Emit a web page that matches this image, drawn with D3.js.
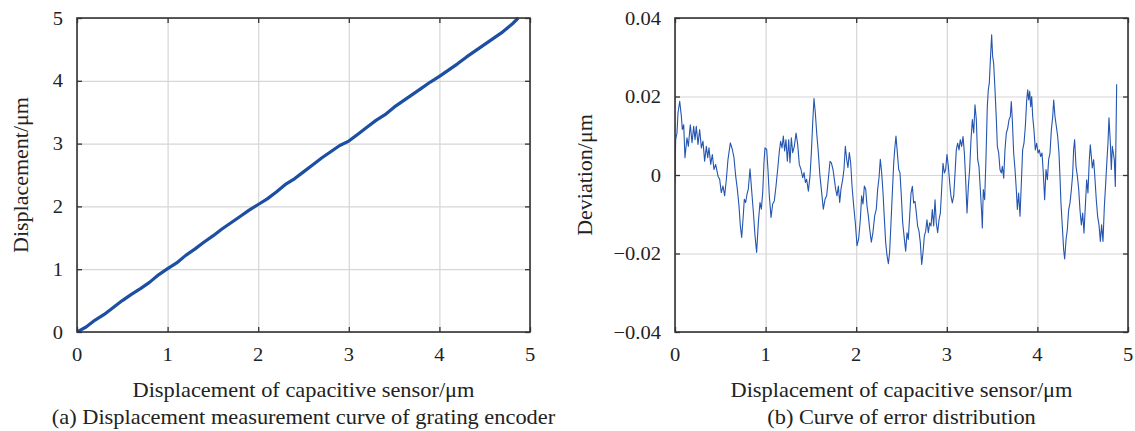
<!DOCTYPE html>
<html>
<head>
<meta charset="utf-8">
<script src="https://cdn.jsdelivr.net/npm/d3@7"></script>
<style>
body { margin: 0; background: #fff; }
text { font-family: "Liberation Serif", "Times New Roman", serif; fill: #222; }
</style>
</head>
<body>
<div class="container"></div>
<script>
// x values shared by both panels (capacitive sensor, um)
const xTicks = [0, 1, 2, 3, 4, 5]

// (a) grating encoder displacement vs capacitive sensor
const dispX = [0, 0.1, 0.2, 0.3, 0.4, 0.5, 0.6, 0.7, 0.8, 0.9, 1.0, 1.1, 1.2, 1.3, 1.4, 1.5, 1.6, 1.7, 1.8, 1.9,
    2.0, 2.1, 2.2, 2.3, 2.4, 2.5, 2.6, 2.7, 2.8, 2.9, 3.0, 3.1, 3.2, 3.3, 3.4, 3.5, 3.6, 3.7, 3.8, 3.9,
    4.0, 4.1, 4.2, 4.3, 4.4, 4.5, 4.6, 4.7, 4.8, 4.87]
const dispY = [0, 0.08, 0.19, 0.28, 0.39, 0.5, 0.6, 0.69, 0.79, 0.91, 1.01, 1.1, 1.22, 1.32, 1.43, 1.53, 1.64, 1.74, 1.84, 1.94,
    2.03, 2.12, 2.23, 2.35, 2.44, 2.55, 2.66, 2.77, 2.87, 2.97, 3.04, 3.15, 3.26, 3.37, 3.46, 3.58, 3.68, 3.78, 3.88, 3.98,
    4.07, 4.17, 4.27, 4.38, 4.48, 4.58, 4.68, 4.78, 4.9, 5.0]
const dispTicks = [0, 1, 2, 3, 4, 5]

// (b) deviation
const devX = [0, 0.007, 0.022, 0.033, 0.052, 0.07, 0.081, 0.096, 0.11, 0.132, 0.147, 0.169, 0.188, 0.206, 0.221, 0.235,
    0.254, 0.272, 0.291, 0.309, 0.327, 0.346, 0.361, 0.375, 0.394, 0.412, 0.43, 0.449, 0.475, 0.493, 0.511, 0.53,
    0.548, 0.567, 0.585, 0.611, 0.633, 0.651, 0.67, 0.688, 0.706, 0.721, 0.736, 0.751, 0.765, 0.78, 0.795, 0.809,
    0.828, 0.845, 0.865, 0.883, 0.901, 0.92, 0.938, 0.953, 0.968, 0.982, 0.993, 1.012, 1.026, 1.041, 1.06, 1.078,
    1.096, 1.115, 1.133, 1.152, 1.166, 1.181, 1.196, 1.21, 1.225, 1.24, 1.255, 1.269, 1.284, 1.299, 1.317, 1.336,
    1.354, 1.372, 1.391, 1.409, 1.424, 1.439, 1.453, 1.472, 1.49, 1.505, 1.52, 1.534, 1.549, 1.564, 1.582, 1.6,
    1.619, 1.637, 1.656, 1.674, 1.692, 1.711, 1.726, 1.744, 1.759, 1.773, 1.788, 1.803, 1.818, 1.832, 1.851, 1.865,
    1.88, 1.895, 1.909, 1.924, 1.939, 1.954, 1.972, 1.99, 2.009, 2.027, 2.046, 2.06, 2.075, 2.09, 2.105, 2.119,
    2.134, 2.149, 2.167, 2.185, 2.204, 2.222, 2.237, 2.252, 2.266, 2.281, 2.296, 2.311, 2.325, 2.34, 2.355, 2.369,
    2.384, 2.399, 2.414, 2.428, 2.439, 2.454, 2.469, 2.483, 2.498, 2.513, 2.528, 2.546, 2.561, 2.575, 2.59, 2.605,
    2.62, 2.634, 2.649, 2.664, 2.678, 2.693, 2.708, 2.723, 2.737, 2.752, 2.767, 2.781, 2.796, 2.811, 2.826, 2.84,
    2.855, 2.87, 2.884, 2.899, 2.914, 2.929, 2.943, 2.958, 2.973, 2.987, 3.002, 3.017, 3.032, 3.046, 3.061, 3.076,
    3.091, 3.105, 3.12, 3.135, 3.149, 3.164, 3.179, 3.194, 3.208, 3.223, 3.238, 3.252, 3.267, 3.282, 3.297, 3.311,
    3.326, 3.341, 3.355, 3.37, 3.385, 3.392, 3.403, 3.418, 3.433, 3.447, 3.458, 3.469, 3.481, 3.495, 3.506, 3.517,
    3.532, 3.547, 3.558, 3.573, 3.587, 3.602, 3.613, 3.628, 3.642, 3.657, 3.672, 3.687, 3.701, 3.712, 3.723, 3.738,
    3.753, 3.767, 3.779, 3.793, 3.808, 3.823, 3.837, 3.852, 3.867, 3.882, 3.893, 3.904, 3.915, 3.926, 3.937, 3.948,
    3.962, 3.977, 3.992, 4.007, 4.021, 4.036, 4.051, 4.065, 4.08, 4.095, 4.11, 4.124, 4.139, 4.154, 4.169, 4.18,
    4.194, 4.209, 4.224, 4.238, 4.249, 4.26, 4.275, 4.29, 4.301, 4.316, 4.33, 4.345, 4.36, 4.375, 4.389, 4.4,
    4.411, 4.426, 4.441, 4.456, 4.47, 4.485, 4.5, 4.514, 4.529, 4.544, 4.558, 4.573, 4.584, 4.595, 4.606, 4.621,
    4.636, 4.65, 4.665, 4.68, 4.695, 4.709, 4.724, 4.739, 4.754, 4.768, 4.779, 4.79, 4.805, 4.816, 4.827, 4.838,
    4.849, 4.86, 4.875]
const devY = [-0.002, 0.009, 0.0107, 0.0158, 0.0188, 0.015, 0.0116, 0.0128, 0.0044, 0.0095, 0.0073, 0.0128, 0.0082, 0.0124, 0.009, 0.0124,
    0.0078, 0.0116, 0.0069, 0.0086, 0.0035, 0.0073, 0.0044, 0.0069, 0.0027, 0.0052, 0.0014, 0.0027, -0.0003, -0.0011, -0.0045, -0.0028,
    -0.0053, -0.0011, 0.004, 0.0082, 0.0065, 0.0044, -0.0003, -0.0036, -0.0078, -0.0129, -0.0159, -0.0112, -0.0062, -0.007, -0.0049, -0.0036,
    0.0016, -0.0036, -0.0095, -0.0154, -0.0197, -0.0121, -0.007, -0.0087, -0.0045, 0.0031, 0.0069, 0.0065, 0.0014, -0.0053, -0.0108, -0.0074,
    -0.0066, -0.0028, 0.0014, 0.0061, 0.0086, 0.0069, 0.0099, 0.0061, 0.009, 0.0035, 0.009, 0.0031, 0.0095, 0.0057, 0.0073, 0.0107,
    0.0078, 0.0027, 0.0014, -0.0007, 0.0006, -0.0019, -0.0011, -0.0041, -0.0003, 0.0057, 0.0133, 0.0195, 0.0158, 0.0107, 0.0057, -0.0003,
    -0.0045, -0.0087, -0.0062, -0.0053, -0.0011, 0.0035, 0.0031, 0.0014, -0.0011, -0.0036, -0.0053, -0.0028, -0.007, -0.0036, -0.0011, 0.0014,
    0.0073, 0.004, 0.0019, 0.0057, 0.0031, -0.0028, -0.0078, -0.0121, -0.018, -0.0163, -0.0112, -0.0053, -0.0074, -0.0028, -0.0036, -0.0078,
    -0.0104, -0.0138, -0.0171, -0.0146, -0.0104, -0.0087, -0.0036, -0.0007, 0.004, 0.0006, -0.0045, -0.0112, -0.0171, -0.0205, -0.0226, -0.0197,
    -0.0121, -0.0045, 0.0031, 0.0073, 0.0099, 0.0057, 0.0014, 0.0006, -0.0053, -0.0121, -0.0155, -0.0194, -0.0147, -0.0164, -0.0105, -0.0046,
    -0.0029, -0.0071, -0.0067, -0.0097, -0.013, -0.0143, -0.0173, -0.0228, -0.0198, -0.0156, -0.0143, -0.0114, -0.0147, -0.0122, -0.013, -0.0088,
    -0.013, -0.0063, -0.0122, -0.0147, -0.0114, -0.0097, -0.0037, 0.003, 0.0005, 0.0014, 0.0052, 0.0022, -0.002, -0.0054, -0.0071, -0.0054,
    0.0005, 0.0064, 0.0081, 0.0064, 0.009, 0.0073, 0.0098, 0.0056, -0.0012, -0.0097, -0.0029, 0.0014, 0.009, 0.0141, 0.0107, 0.0179,
    0.0141, 0.0039, 0.0022, -0.0037, -0.0097, -0.0135, -0.0037, -0.0063, 0.0047, 0.0174, 0.0217, 0.0234, 0.0293, 0.0357, 0.0302, 0.0285,
    0.0217, 0.0141, 0.0073, 0.0056, 0.0014, 0.0005, 0.0022, -0.0008, 0.0064, 0.0107, 0.0119, 0.0141, 0.0149, 0.0187, 0.0141, 0.0056,
    0.0014, -0.0037, -0.0088, -0.0046, -0.0105, -0.002, 0.0064, 0.0081, 0.0124, 0.0191, 0.0217, 0.0191, 0.0213, 0.0174, 0.02, 0.0149,
    0.0115, 0.0064, 0.0081, 0.0056, 0.0064, 0.0047, 0.0056, 0.0005, -0.0063, 0.0014, -0.0012, 0.0039, 0.0056, 0.0115, 0.0149, 0.0191,
    0.0149, 0.0124, 0.0098, 0.0056, -0.0003, -0.0071, -0.0131, -0.0191, -0.0214, -0.0165, -0.014, -0.0089, -0.0071, -0.0037, 0.0001, 0.0065,
    0.009, 0.0022, -0.0003, -0.0037, -0.0089, -0.0127, -0.0097, -0.0148, -0.008, -0.0012, -0.0046, 0.0039, 0.0077, 0.0048, 0.0018, 0.0039,
    -0.0012, -0.0063, -0.0106, -0.0127, -0.0169, -0.0127, -0.0169, -0.008, -0.002, 0.0039, 0.0082, 0.0146, 0.0082, 0.0014, 0.0073, 0.0056,
    0.0039, -0.0029, 0.0231]
const devTicks = [-0.04, -0.02, 0, 0.02, 0.04]
const devTickLabels = ['\u22120.04', '\u22120.02', '0', '0.02', '0.04']

let width = 1135
let height = 431
let plotTop = 18
let plotBottom = 332

let svg = d3.select('.container')
    .append('svg')
    .attr('width', width)
    .attr('height', height)

function panel(opt) {
    let x = d3.scaleLinear().domain([0, 5]).range([opt.left, opt.right])
    let y = d3.scaleLinear().domain(opt.yDomain).range([plotBottom, plotTop])
    let g = svg.append('g')
    let h = plotBottom - plotTop
    let w = opt.right - opt.left

    // grid
    g.append('g')
        .attr('transform', `translate(0,${plotBottom})`)
        .call(d3.axisBottom(x).tickValues(xTicks).tickSize(-h).tickFormat(''))
        .call(a => a.select('.domain').remove())
        .selectAll('line').attr('stroke', '#d6d6d6').attr('stroke-width', 1.2)
    g.append('g')
        .attr('transform', `translate(${opt.left},0)`)
        .call(d3.axisLeft(y).tickValues(opt.yTicks).tickSize(-w).tickFormat(''))
        .call(a => a.select('.domain').remove())
        .selectAll('line').attr('stroke', '#d6d6d6').attr('stroke-width', 1.2)

    // curve
    let clipId = 'clip' + opt.left
    g.append('clipPath').attr('id', clipId)
        .append('rect').attr('x', opt.left).attr('y', plotTop - 3).attr('width', w + 3).attr('height', h + 3)
    g.append('path')
        .datum(opt.ys)
        .attr('clip-path', `url(#${clipId})`)
        .attr('fill', 'none')
        .attr('stroke', opt.color)
        .attr('stroke-width', opt.lineWidth)
        .attr('stroke-linejoin', 'round')
        .attr('d', d3.line().x((d, i) => x(opt.xs[i])).y(d => y(d)))

    // inward ticks on all four sides
    let tick = 5
    let axes = [
        [d3.axisBottom(x).tickValues(xTicks), `translate(0,${plotBottom})`],
        [d3.axisTop(x).tickValues(xTicks), `translate(0,${plotTop})`],
        [d3.axisLeft(y).tickValues(opt.yTicks), `translate(${opt.left},0)`],
        [d3.axisRight(y).tickValues(opt.yTicks), `translate(${opt.right},0)`]
    ]
    axes.forEach(([ax, tr]) => {
        let a = g.append('g')
            .attr('transform', tr)
            .call(ax.tickSize(-tick).tickSizeOuter(0).tickFormat(''))
        a.select('.domain').remove()
        a.selectAll('line').attr('stroke', '#333').attr('stroke-width', 1.3)
    })

    // frame
    g.append('rect')
        .attr('x', opt.left).attr('y', plotTop)
        .attr('width', w).attr('height', h)
        .attr('fill', 'none')
        .attr('stroke', '#333')
        .attr('stroke-width', 1.6)

    // tick labels
    g.selectAll('.xl').data(xTicks).enter().append('text')
        .attr('transform', d => `translate(${x(d)},361) scale(1.08,1)`)
        .attr('text-anchor', 'middle')
        .style('font-size', '19px')
        .text(d => d)
    g.selectAll('.yl').data(opt.yTicks).enter().append('text')
        .attr('transform', d => `translate(${opt.left - 14},${y(d) + 6.5}) scale(1.08,1)`)
        .attr('text-anchor', 'end')
        .style('font-size', '19px')
        .text((d, i) => opt.yLabels[i])

    let cx = (opt.left + opt.right) / 2
    g.append('text')
        .attr('transform', `translate(${cx},397) scale(1.12,1)`)
        .attr('text-anchor', 'middle')
        .style('font-size', '20px')
        .text('Displacement of capacitive sensor/\u03bcm')
    g.append('text')
        .attr('transform', `translate(${cx},424) scale(1.12,1)`)
        .attr('text-anchor', 'middle')
        .style('font-size', '20px')
        .text(opt.caption)
    g.append('text')
        .attr('transform', `translate(${opt.yTitleX},175) rotate(-90) scale(1.1,1)`)
        .attr('text-anchor', 'middle')
        .style('font-size', '20px')
        .text(opt.yTitle)
}

panel({
    left: 77, right: 530,
    xs: dispX, ys: dispY,
    yDomain: [0, 5], yTicks: dispTicks, yLabels: dispTicks.map(String),
    color: '#1c4ea2', lineWidth: 3.2,
    yTitle: 'Displacement/\u03bcm', yTitleX: 28,
    caption: '(a) Displacement measurement curve of grating encoder'
})

panel({
    left: 675, right: 1128,
    xs: devX, ys: devY,
    yDomain: [-0.04, 0.04], yTicks: devTicks, yLabels: devTickLabels,
    color: '#2455b0', lineWidth: 1.1,
    yTitle: 'Deviation/\u03bcm', yTitleX: 592,
    caption: '(b) Curve of error distribution'
})
</script>
</body>
</html>
